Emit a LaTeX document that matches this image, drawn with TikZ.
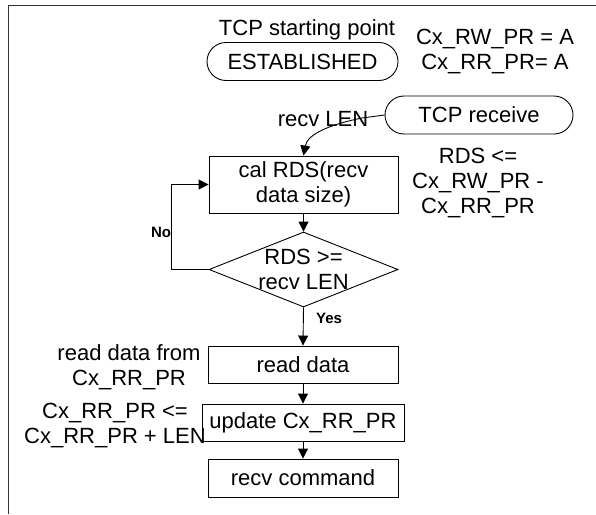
\documentclass[tikz,border=0pt]{standalone}
\usepackage{fontspec}
\setmainfont{Liberation Sans}
\usetikzlibrary{shapes.misc,shapes.geometric,arrows.meta}
\begin{document}
\begin{tikzpicture}[x=1pt,y=-1pt,
  every node/.style={font=\fontsize{22}{25}\selectfont, inner sep=0pt},
  ln/.style={line width=0.9pt},
  box/.style={draw, ln, minimum height=37pt, align=center},
  term/.style={draw, ln, rounded rectangle, minimum height=38pt},
  lbl/.style={align=center},
  yn/.style={font=\fontsize{15}{17}\selectfont\bfseries},
  arr/.style={ln, -{Triangle[length=10pt,width=10pt]}},
  frame/.style={line width=1.3pt, draw=black!80}]
\useasboundingbox (0,0) rectangle (596,514);
\draw[frame] (596,5.5) -- (8.5,5.5) -- (8.5,514);

\node[lbl] (startlbl) at (307,29.5) {TCP starting point};
\node[term, minimum width=191pt] (est) at (302.5,61.5) {ESTABLISHED};
\node[lbl] (ptrs) at (495,51.5) {Cx\_RW\_PR = A\\Cx\_RR\_PR= A};
\node[term, minimum width=188pt] (tcp) at (479,115) {TCP receive};
\node[lbl, anchor=base] (lenlbl) at (323,126) {recv LEN};
\node[box, minimum width=189pt, minimum height=57pt] (cal) at (303.5,184.5) {cal RDS(recv\\data size)};
\node[lbl] (rdslbl) at (478,183.5) {RDS <=\\Cx\_RW\_PR -\\Cx\_RR\_PR};
\node[draw, ln, diamond, minimum width=189pt, minimum height=75pt] (dec) at (303.5,269.5) {};
\node[lbl] (dectxt) at (dec.center) {RDS >=\\recv LEN};
\node[box, minimum width=190pt] (read) at (303,364.5) {read data};
\node[box, minimum width=202pt] (upd) at (303,422.5) {update Cx\_RR\_PR};
\node[box, minimum width=190pt, minimum height=38pt] (cmd) at (303,478) {recv command};
\node[lbl] (readlbl) at (129,367.7) {read data from\\Cx\_RR\_PR};
\node[lbl] (updlbl) at (115,425) {Cx\_RR\_PR <=\\Cx\_RR\_PR + LEN};
\node[yn, anchor=base] (no) at (161,237) {No};
\node[yn, anchor=base] (yes) at (329,323) {Yes};

\coordinate (k) at (362,118);
\draw[arr] (tcp.west) -- (k) .. controls +(-30,6) and +(4,-22) .. (cal.north);
\draw[arr] (cal.south) -- (dec.north);
\draw[arr] (dec.west) -- ++(-37,0) |- (cal.west);
\draw[arr] (dec.south) -- (read.north);
\draw[arr] (read.south) -- (upd.north);
\draw[arr] (upd.south) -- (cmd.north);
\end{tikzpicture}
\end{document}
